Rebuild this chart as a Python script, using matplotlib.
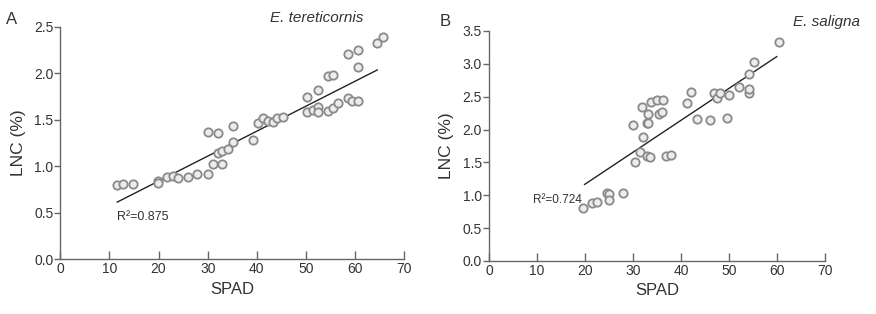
import numpy as np
import matplotlib
matplotlib.use("Agg")
import matplotlib.pyplot as plt

plt.rcParams['font.family'] = ['Liberation Sans', 'DejaVu Sans']

# panel A: E. tereticornis
spad_a = [11.6, 12.8, 14.9, 19.9, 19.9, 21.8, 22.9, 24.0, 25.9, 27.9, 30.1,
          30.1, 32.1, 35.2, 31.1, 33.0, 32.0, 33.0, 34.2, 35.2, 39.3,
          40.2, 41.3, 42.2, 43.2, 44.2, 45.4,
          50.3, 50.3, 51.4, 52.4, 52.4, 52.4, 54.4, 55.5, 56.6, 54.4, 55.5,
          58.5, 59.4, 60.5, 58.5, 60.5, 60.5, 64.5, 65.6]
lnc_a = [0.80, 0.81, 0.81, 0.84, 0.82, 0.88, 0.89, 0.87, 0.88, 0.92, 0.92,
         1.37, 1.36, 1.43, 1.02, 1.02, 1.14, 1.16, 1.19, 1.26, 1.28,
         1.46, 1.52, 1.49, 1.48, 1.52, 1.53,
         1.58, 1.74, 1.60, 1.82, 1.64, 1.58, 1.59, 1.63, 1.68, 1.97, 1.98,
         1.73, 1.70, 1.70, 2.21, 2.25, 2.07, 2.32, 2.39]
fit_x_a = [11.6, 64.5]
fit_y_a = [0.615, 2.035]

# panel B: E. saligna
spad_b = [19.5, 21.4, 22.4, 24.6, 25.0, 25.0, 27.8, 30.0, 30.3, 31.8, 32.0,
          31.4, 32.8, 33.1, 33.1, 32.8, 33.5, 33.8, 34.9, 35.3, 36.0, 36.2,
          36.8, 37.8, 41.3, 42.0, 43.3, 46.1, 46.9, 47.4, 48.1, 49.6, 50.0,
          52.0, 54.1, 54.1, 54.2, 55.1, 60.3]
lnc_b = [0.81, 0.88, 0.90, 1.04, 1.02, 0.93, 1.04, 2.07, 1.50, 2.34, 1.88,
         1.66, 2.10, 2.10, 2.24, 1.60, 1.58, 2.42, 2.45, 2.23, 2.26, 2.45,
         1.60, 1.61, 2.40, 2.57, 2.16, 2.14, 2.55, 2.48, 2.56, 2.18, 2.53,
         2.65, 2.85, 2.56, 2.61, 3.03, 3.33]
fit_x_b = [19.9, 59.9]
fit_y_b = [1.165, 3.11]

x_ticks = [0, 10, 20, 30, 40, 50, 60, 70]

fig = plt.figure(figsize=(8.76, 3.14), dpi=100)
ax_a = fig.add_axes([0.0688, 0.1742, 0.3927, 0.7408])
ax_b = fig.add_axes([0.5582, 0.1688, 0.3839, 0.7325])

axis_col = '#666666'
text_col = '#333333'


def style(ax, ymax, yticks):
    ax.set_xlim(0, 70)
    ax.set_ylim(0, ymax)
    ax.set_xticks(x_ticks)
    ax.set_yticks(yticks)
    ax.set_yticklabels(['%.1f' % t for t in yticks])
    for s in ['top', 'right']:
        ax.spines[s].set_visible(False)
    for s in ['left', 'bottom']:
        ax.spines[s].set_color(axis_col)
        ax.spines[s].set_linewidth(1.0)
    ax.tick_params(axis='x', direction='in', length=6, width=1.0,
                   colors=axis_col, labelcolor=text_col, labelsize=10, pad=2)
    ax.tick_params(axis='y', direction='out', length=4, width=1.0,
                   colors=axis_col, labelcolor=text_col, labelsize=10, pad=1)
    ax.set_xlabel('SPAD', fontsize=12, color=text_col, labelpad=4)
    ax.set_ylabel('LNC (%)', fontsize=12.5, color=text_col, labelpad=6)


for ax, xs, ys, fx, fy in [(ax_a, spad_a, lnc_a, fit_x_a, fit_y_a),
                           (ax_b, spad_b, lnc_b, fit_x_b, fit_y_b)]:
    ax.plot(xs, ys, 'o', ms=6, mfc='#ececec', mec='#8a8a8a', mew=1.3,
            clip_on=False, zorder=3)
    ax.plot(fx, fy, '-', color='#222222', lw=1.0, zorder=2)

style(ax_a, 2.5, [0.0, 0.5, 1.0, 1.5, 2.0, 2.5])
style(ax_b, 3.5, [0.0, 0.5, 1.0, 1.5, 2.0, 2.5, 3.0, 3.5])

ax_a.text(11.5, 0.45, 'R\u00b2=0.875', fontsize=9, color=text_col,
          va='center', ha='left')
ax_b.text(9.2, 0.93, 'R\u00b2=0.724', fontsize=8.5, color=text_col,
          va='center', ha='left')

fig.text(363 / 876, 1 - 18 / 314, 'E. tereticornis', fontsize=11,
         style='italic', color=text_col, ha='right', va='center')
fig.text(860 / 876, 1 - 22 / 314, 'E. saligna', fontsize=11,
         style='italic', color=text_col, ha='right', va='center')
fig.text(12 / 876, 1 - 20 / 314, 'A', fontsize=12, color=text_col,
         ha='center', va='center')
fig.text(445 / 876, 1 - 22 / 314, 'B', fontsize=12, color=text_col,
         ha='center', va='center')

fig.savefig('out.png', dpi=100)
